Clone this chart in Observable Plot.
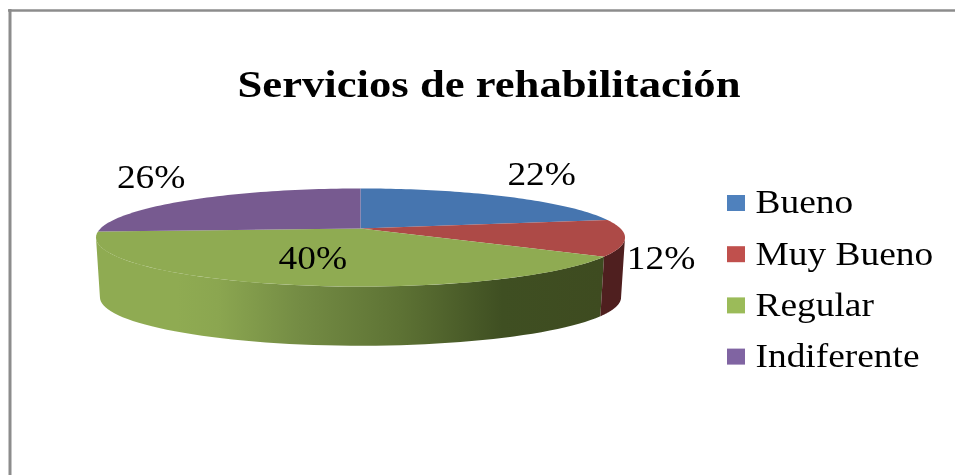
<!DOCTYPE html>
<html>
<head>
<meta charset="utf-8">
<script src="https://cdn.jsdelivr.net/npm/d3@7"></script>
<script src="https://cdn.jsdelivr.net/npm/@observablehq/plot@0.6"></script>
<style>html,body{margin:0;padding:0;background:#fff}svg{display:block;filter:blur(0.5px)}</style>
</head>
<body>
<div id="chart"></div>
<script>
const title = "Servicios de rehabilitación";
const categories = ["Bueno", "Muy Bueno", "Regular", "Indiferente"];
const values = [22, 12, 40, 26];
const topColors = ["#4675AF", "#AD4A47", "#8FAB52", "#775A90"];
const legendColors = ["#4F81BD", "#C0504D", "#9BBB59", "#8064A2"];
const labelOffsets = [[36, -22], [36, 20], [31, -26], [-41, -23]];

// perspective model of the disc
const W = 955, H = 475, cx = 360, cy = 228, R = 260, RY = 47.4, K = 0.184, DEPTH = 60, SHRINK = 0.985;
const rad = d => d * Math.PI / 180;
const topPoint = deg => {
  const X = Math.sin(rad(deg)), Z = Math.cos(rad(deg)), s = 1 / (1 + K * Z);
  return {x: cx + R * X * s, y: cy - RY * Z * s};
};
const bottomPoint = deg => {
  const p = topPoint(deg);
  return {x: cx + (p.x - cx) * SHRINK, y: cy + (p.y - cy) * SHRINK + DEPTH};
};
const arc = (a, b, f) => d3.range(0, 61).map(i => f(a + (b - a) * i / 60));

const total = d3.sum(values);
let acc = 0;
const slices = values.map((v, i) => {
  const a0 = acc / total * 360;
  acc += v;
  const a1 = acc / total * 360;
  return {name: categories[i], value: v, a0, a1, mid: (a0 + a1) / 2, color: topColors[i]};
});

const slicePath = s => [{x: cx, y: cy}, ...arc(s.a0, s.a1, topPoint), {x: cx, y: cy}];
const wallPath = (a, b) => [...arc(a, b, topPoint), ...arc(b, a, bottomPoint)];
const silhouette = Math.acos(-K) * 180 / Math.PI;
const redWall = wallPath(silhouette, slices[1].a1);
const greenWall = wallPath(slices[2].a0, 360 - silhouette);

const gradient = () => {
  const defs = d3.create("svg:defs");
  const g = defs.append("linearGradient").attr("id", "wall");
  [[0, "#8fab52"], [0.16, "#8fab52"], [0.24, "#8ba650"], [0.4, "#748c44"], [0.6, "#5d7234"], [0.8, "#3f4f22"], [1, "#3e4b20"]]
    .forEach(([o, c]) => g.append("stop").attr("offset", o).attr("stop-color", c));
  return defs.node();
};

const serif = "Liberation Serif";
const labels = slices.map((s, i) => {
  const p = topPoint(s.mid);
  return {text: s.value + "%", x: p.x + labelOffsets[i][0], y: p.y + labelOffsets[i][1]};
});
const legendRows = categories.map((c, i) => ({name: c, color: legendColors[i], y: 203 + i * 51.2}));

const chart = Plot.plot({
  width: W, height: H,
  marginTop: 0, marginRight: 0, marginBottom: 0, marginLeft: 0,
  x: {domain: [0, W], range: [0, W], axis: null},
  y: {domain: [0, H], range: [0, H], axis: null},
  marks: [
    gradient,
    Plot.ruleX([9.5], {y1: 9, y2: H, stroke: "#8c8c8c", strokeWidth: 3}),
    Plot.ruleY([10], {x1: 8, x2: W, stroke: "#8c8c8c", strokeWidth: 2.5}),
    Plot.line(greenWall, {x: "x", y: "y", fill: "url(#wall)", stroke: "none"}),
    Plot.line(redWall, {x: "x", y: "y", fill: "#4F1F1F", stroke: "none"}),
    ...slices.map(s => Plot.line(slicePath(s), {x: "x", y: "y", fill: s.color, stroke: "none"})),
    Plot.text([title], {x: () => 488.5, y: () => 84, text: d => d, fontFamily: serif, fontWeight: "bold", fontSize: 38, fill: "#000"}),
    Plot.text(labels, {x: "x", y: "y", text: "text", fontFamily: serif, fontSize: 34, fill: "#000"}),
    Plot.rect(legendRows, {x1: () => 727, x2: () => 745, y1: d => d.y - 8, y2: d => d.y + 8, fill: "color"}),
    Plot.text(legendRows, {x: () => 755, y: d => d.y - 1, text: "name", textAnchor: "start", fontFamily: serif, fontSize: 34, fill: "#000"})
  ]
});
document.getElementById("chart").appendChild(chart);
// the reference's text is stretched horizontally
chart.querySelectorAll("text").forEach(t => {
  const len = t.getComputedTextLength();
  const target = t.textContent === title ? 503 : len * 1.1;
  t.setAttribute("textLength", target);
  t.setAttribute("lengthAdjust", "spacingAndGlyphs");
});
</script>
</body>
</html>
